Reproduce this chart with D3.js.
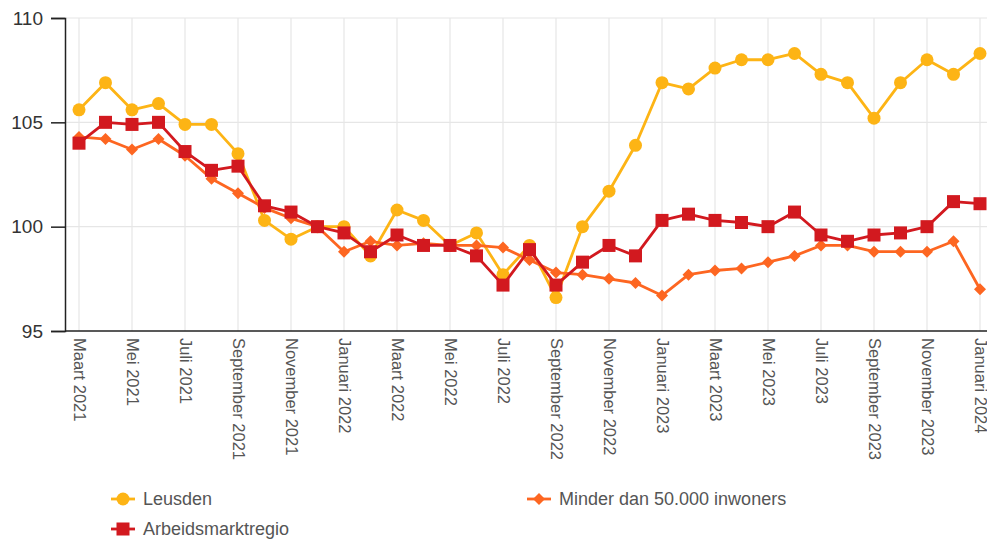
<!DOCTYPE html>
<html>
<head>
<meta charset="utf-8">
<script src="https://cdn.jsdelivr.net/npm/d3@7"></script>
<style>
  body { margin: 0; background: #fff; }
  svg text { font-family: Arial, "Liberation Sans", sans-serif; }
</style>
</head>
<body>
<svg id="chart" width="987" height="539"></svg>
<script>
// months on the x axis
const months = [
  "Maart 2021", "April 2021", "Mei 2021", "Juni 2021", "Juli 2021", "Augustus 2021",
  "September 2021", "Oktober 2021", "November 2021", "December 2021",
  "Januari 2022", "Februari 2022", "Maart 2022", "April 2022", "Mei 2022", "Juni 2022",
  "Juli 2022", "Augustus 2022", "September 2022", "Oktober 2022", "November 2022", "December 2022",
  "Januari 2023", "Februari 2023", "Maart 2023", "April 2023", "Mei 2023", "Juni 2023",
  "Juli 2023", "Augustus 2023", "September 2023", "Oktober 2023", "November 2023", "December 2023",
  "Januari 2024"
];

const leusden = [
  105.6, 106.9, 105.6, 105.9, 104.9, 104.9, 103.5, 100.3, 99.4, 100.0,
  100.0, 98.6, 100.8, 100.3, 99.1, 99.7, 97.7, 99.1, 96.6, 100.0, 101.7, 103.9,
  106.9, 106.6, 107.6, 108.0, 108.0, 108.3, 107.3, 106.9, 105.2, 106.9, 108.0, 107.3,
  108.3
];

const arbeidsmarktregio = [
  104.0, 105.0, 104.9, 105.0, 103.6, 102.7, 102.9, 101.0, 100.7, 100.0,
  99.7, 98.8, 99.6, 99.1, 99.1, 98.6, 97.2, 98.9, 97.2, 98.3, 99.1, 98.6,
  100.3, 100.6, 100.3, 100.2, 100.0, 100.7, 99.6, 99.3, 99.6, 99.7, 100.0, 101.2,
  101.1
];

const minder50k = [
  104.3, 104.2, 103.7, 104.2, 103.4, 102.3, 101.6, 100.9, 100.4, 100.0,
  98.8, 99.3, 99.1, 99.2, 99.1, 99.1, 99.0, 98.4, 97.8, 97.7, 97.5, 97.3,
  96.7, 97.7, 97.9, 98.0, 98.3, 98.6, 99.1, 99.1, 98.8, 98.8, 98.8, 99.3,
  97.0
];

const yTicks = [95, 100, 105, 110];

const series = [
  { name: "Leusden", values: leusden, color: "#fdb415", shape: "circle" },
  { name: "Minder dan 50.000 inwoners", values: minder50k, color: "#fd6621", shape: "diamond" },
  { name: "Arbeidsmarktregio", values: arbeidsmarktregio, color: "#d2191f", shape: "square" }
];

const svg = d3.select("#chart");
const plot = { left: 65, right: 987, top: 18, bottom: 331 };

const x = d3.scalePoint()
  .domain(months)
  .range([79, 980]);

const y = d3.scaleLinear()
  .domain([95, 110])
  .range([plot.bottom, plot.top]);

// every other month gets a tick and grid line
const shownMonths = months.filter((m, i) => i % 2 === 0);

// grid
svg.append("g")
  .selectAll("line.v")
  .data(shownMonths)
  .join("line")
  .attr("x1", d => x(d)).attr("x2", d => x(d))
  .attr("y1", plot.top).attr("y2", plot.bottom)
  .attr("stroke", "#e6e6e6")
  .attr("stroke-width", 1.2);

svg.append("g")
  .selectAll("line.h")
  .data(yTicks.filter(t => t !== 95))
  .join("line")
  .attr("x1", plot.left).attr("x2", plot.right)
  .attr("y1", d => y(d)).attr("y2", d => y(d))
  .attr("stroke", "#e6e6e6")
  .attr("stroke-width", 1.2);

// y axis
const yAxis = svg.append("g")
  .attr("transform", `translate(${plot.left},0)`)
  .call(d3.axisLeft(y).tickValues(yTicks).tickSize(14).tickPadding(8));
yAxis.select(".domain").attr("stroke", "#222").attr("stroke-width", 1.5);
yAxis.selectAll(".tick line").attr("stroke", "#222").attr("stroke-width", 1.5);
yAxis.selectAll(".tick text")
  .attr("fill", "#333")
  .style("font-size", "19px");

// x axis
const xAxis = svg.append("g")
  .attr("transform", `translate(0,${plot.bottom})`)
  .call(d3.axisBottom(x).tickValues(shownMonths).tickSize(0).tickSizeOuter(0));
xAxis.select(".domain")
  .attr("d", `M${plot.left},0H${plot.right}`)
  .attr("stroke", "#222").attr("stroke-width", 1.5);
xAxis.selectAll(".tick text")
  .attr("fill", "#555")
  .style("font-size", "16.5px")
  .attr("text-anchor", "start")
  .attr("dy", "0.35em")
  .attr("transform", "translate(0,7) rotate(90)")
  .attr("x", 0).attr("y", 0);

const line = d3.line()
  .x((d, i) => x(months[i]))
  .y(d => y(d));

function drawMarker(g, shape, cx, cy, color) {
  if (shape === "circle") {
    g.append("circle").attr("cx", cx).attr("cy", cy).attr("r", 6.5).attr("fill", color);
  } else if (shape === "square") {
    g.append("rect").attr("x", cx - 6.5).attr("y", cy - 6.5)
      .attr("width", 13).attr("height", 13).attr("fill", color);
  } else {
    g.append("path")
      .attr("d", `M${cx},${cy - 6}L${cx + 6},${cy}L${cx},${cy + 6}L${cx - 6},${cy}Z`)
      .attr("fill", color);
  }
}

series.forEach(s => {
  const g = svg.append("g");
  g.append("path")
    .datum(s.values)
    .attr("d", line)
    .attr("fill", "none")
    .attr("stroke", s.color)
    .attr("stroke-width", 2.8)
    .attr("stroke-linejoin", "round");
  s.values.forEach((v, i) => drawMarker(g, s.shape, x(months[i]), y(v), s.color));
});

// legend
const legendItems = [
  { s: series[0], lx: 111, ly: 499 },
  { s: series[2], lx: 111, ly: 529 },
  { s: series[1], lx: 527, ly: 499 }
];
legendItems.forEach(item => {
  const g = svg.append("g");
  g.append("line")
    .attr("x1", item.lx).attr("x2", item.lx + 24)
    .attr("y1", item.ly).attr("y2", item.ly)
    .attr("stroke", item.s.color).attr("stroke-width", 2.8);
  drawMarker(g, item.s.shape, item.lx + 12, item.ly, item.s.color);
  g.append("text")
    .attr("x", item.lx + 32)
    .attr("y", item.ly)
    .attr("dy", "0.35em")
    .attr("fill", "#555")
    .style("font-size", "18px")
    .text(item.s.name);
});
</script>
</body>
</html>
